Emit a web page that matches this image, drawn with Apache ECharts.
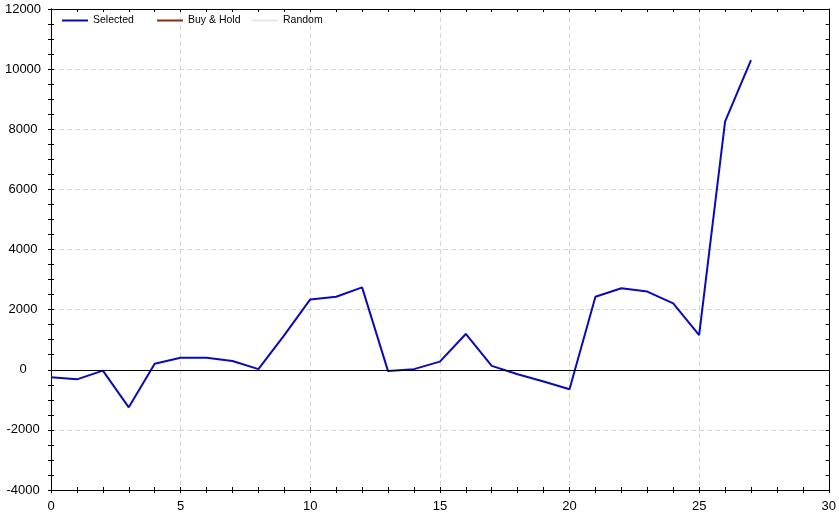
<!DOCTYPE html>
<html>
<head>
<meta charset="utf-8">
<script src="https://cdn.jsdelivr.net/npm/echarts@6/dist/echarts.min.js"></script>
<style>html,body{margin:0;padding:0;background:#fff;}#c{width:839px;height:514px;}</style>
</head>
<body>
<div id="c"></div>
<script>
var xValues = [0,1,2,3,4,5,6,7,8,9,10,11,12,13,14,15,16,17,18,19,20,21,22,23,24,25,26,27];
var selected = [-250,-320,-30,-1250,200,400,400,290,20,1150,2340,2430,2740,-45,20,270,1190,130,-150,-390,-650,2430,2710,2600,2210,1150,8250,10300];
var buyHold = [];
var random = [];
var seriesNames = ['Selected','Buy & Hold','Random'];
var legendLefts = [62, 157, 252];

var font = 'Liberation Sans, Arial, sans-serif';
function fmt(v){ return String(v); }
function xa(pos, inside, show, len) {
  return {
    type:'value', min:0, max:30, interval:5, position:pos,
    axisLine:{show:true, onZero:false, lineStyle:{color:'#000', width:1}},
    axisTick:{show:true, inside:inside, length:len, lineStyle:{color:'#000'}},
    minorTick:{show:true, splitNumber:5, length:len, lineStyle:{color:'#000'}},
    axisLabel:{show:show, color:'#000', fontSize:13, fontFamily:font, margin:10, formatter:fmt},
    splitLine:{show:show, lineStyle:{color:'#d4d4d4', type:[5,3]}},
    minorSplitLine:{show:false}
  };
}
function ya(pos, inside, show, len) {
  return {
    type:'value', min:-4000, max:12000, interval:2000, position:pos,
    axisLine:{show:true, onZero:false, lineStyle:{color:'#000', width:1}},
    axisTick:{show:true, inside:inside, length:len, lineStyle:{color:'#000'}},
    minorTick:{show:true, splitNumber:4, length:len, lineStyle:{color:'#000'}},
    axisLabel:{show:show, color:'#000', fontSize:13, fontFamily:font, margin:28, align:'center', formatter:fmt},
    splitLine:{show:show, lineStyle:{color:'#d4d4d4', type:[5,3]}},
    minorSplitLine:{show:false}
  };
}
var legends = seriesNames.map(function(n, i){
  return {
    show:true, left:legendLefts[i], top:15, padding:0, orient:'horizontal', itemWidth:26, itemHeight:2,
    icon:'rect', selectedMode:false,
    textStyle:{fontSize:10.5, fontFamily:font, color:'#000'},
    data:[n]
  };
});
var chart = echarts.init(document.getElementById('c'));
chart.setOption({
  animation:false,
  backgroundColor:'#fff',
  grid:{left:51, right:10, top:9, bottom:24, containLabel:false},
  legend:legends,
  xAxis:[xa('bottom', false, true, 3), xa('bottom', true, false, 3), xa('top', true, false, 3)],
  yAxis:[ya('left', false, true, 3), ya('left', true, false, 3), ya('right', true, false, 3)],
  series:[
    {name:seriesNames[0], type:'line', xAxisIndex:0, yAxisIndex:0, showSymbol:false, symbol:'none',
     lineStyle:{color:'#0a0ab8', width:2}, itemStyle:{color:'#0a0ab8'},
     data:xValues.map(function(x,i){return [x, selected[i]];}),
     markLine:{silent:true, symbol:'none', label:{show:false},
       lineStyle:{color:'#000', width:1, type:'solid'}, data:[{yAxis:0}]}},
    {name:seriesNames[1], type:'line', showSymbol:false, symbol:'none',
     lineStyle:{color:'#8b2a10', width:2}, itemStyle:{color:'#8b2a10'}, data:buyHold},
    {name:seriesNames[2], type:'line', showSymbol:false, symbol:'none',
     lineStyle:{color:'#e6e6e6', width:2}, itemStyle:{color:'#e6e6e6'}, data:random}
  ]
});
</script>
</body>
</html>
